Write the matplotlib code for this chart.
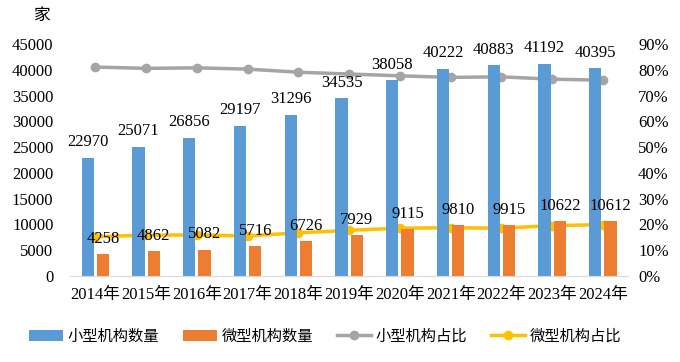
import matplotlib.pyplot as plt
import numpy as np

# 数据
years = ['2014年', '2015年', '2016年', '2017年', '2018年', '2019年',
         '2020年', '2021年', '2022年', '2023年', '2024年']
small_count = [22970, 25071, 26856, 29197, 31296, 34535, 38058, 40222, 40883, 41192, 40395]
micro_count = [4258, 4862, 5082, 5716, 6726, 7929, 9115, 9810, 9915, 10622, 10612]
small_share = [81.1, 80.6, 80.8, 80.3, 79.1, 78.4, 77.7, 77.1, 77.3, 76.4, 76.0]
micro_share = [15.2, 15.8, 15.9, 15.5, 16.7, 17.7, 18.5, 18.7, 18.5, 19.5, 19.9]

fam = ['Liberation Serif', 'Noto Sans CJK SC']
plt.rcParams['font.family'] = fam
plt.rcParams['font.size'] = 12

fig = plt.figure(figsize=(6.8, 3.62), dpi=100)
ax = fig.add_axes([0.103, 0.238, 0.821, 0.640])
ax2 = ax.twinx()

x = np.arange(len(years))
w = 0.24
b1 = ax.bar(x - 0.15, small_count, w, color='#5B9BD5', label='小型机构数量', zorder=2)
b2 = ax.bar(x + 0.15, micro_count, w, color='#ED7D31', label='微型机构数量', zorder=2)

for xi, v in zip(x, small_count):
    ax.annotate(str(v), (xi - 0.15, v), xytext=(0, 11), textcoords='offset points',
                ha='center', va='center', fontsize=12)
for xi, v in zip(x, micro_count):
    ax.annotate(str(v), (xi + 0.15, v), xytext=(0, 11), textcoords='offset points',
                ha='center', va='center', fontsize=12, zorder=5)

l1, = ax2.plot(x, small_share, color='#A5A5A5', lw=2.5, marker='o', ms=6, label='小型机构占比')
l2, = ax2.plot(x, micro_share, color='#FFC000', lw=2.5, marker='o', ms=6, label='微型机构占比')
ax.set_zorder(ax2.get_zorder() + 1)
ax.patch.set_visible(False)

ax.set_ylim(0, 45000)
ax.set_yticks(range(0, 45001, 5000))
ax2.set_ylim(0, 90)
ax2.set_yticks(range(0, 91, 10))
ax2.set_yticklabels([f'{t}%' for t in range(0, 91, 10)])
ax.set_xlim(-0.5, len(years) - 0.5)
ax.set_xticks(x)
ax.set_xticklabels(years)

for a in (ax, ax2):
    for s in ['top', 'left', 'right']:
        a.spines[s].set_visible(False)
    a.spines['bottom'].set_color('#D9D9D9')
    a.tick_params(length=0)
ax.tick_params(axis='y', pad=12)
ax.tick_params(axis='x', pad=8)
ax2.tick_params(axis='y', pad=7)

fig.text(0.062, 0.955, '家', ha='center', va='center', fontsize=12)

fig.legend([b1, b2, l1, l2], ['小型机构数量', '微型机构数量', '小型机构占比', '微型机构占比'],
           loc='center', bbox_to_anchor=(0.478, 0.07), ncol=4, frameon=False,
           handlelength=2.2, columnspacing=1.6, handletextpad=0.3, fontsize=11)

plt.savefig('out.png')
